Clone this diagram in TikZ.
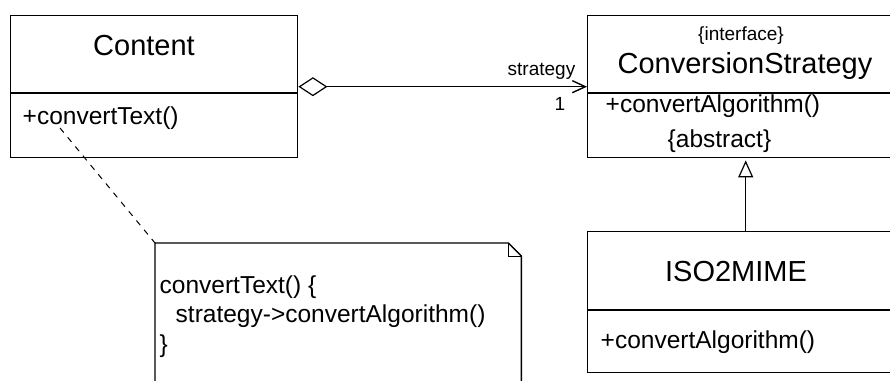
\documentclass[tikz,border=0pt]{standalone}
\usepackage{fontspec}
\setmainfont{Liberation Sans}
\usetikzlibrary{arrows.meta}
\begin{document}
\begin{tikzpicture}[x=1pt,y=-1pt,
  line width=1.4pt,
  classbox/.style={draw, inner sep=0pt, anchor=north west},
  titlefont/.style={font=\fontsize{29}{34}\selectfont},
  opfont/.style={font=\fontsize{24.5}{29.5}\selectfont},
  smallfont/.style={font=\fontsize{19}{22}\selectfont},
  txt/.style={inner sep=0pt, anchor=base west},
  ctxt/.style={inner sep=0pt, anchor=base},
]
\useasboundingbox (0,0) rectangle (890,380);
\clip (0,0) rectangle (890,380);
\fill[white] (0,0) rectangle (890,380);

% class Content
\node[classbox, minimum width=287pt, minimum height=142pt] (content) at (10,15) {};
\draw (content.west |- 0,93) -- (content.east |- 0,93);
\node[ctxt, titlefont] (contentname) at (144,55) {Content};
\node[txt, opfont] (contentop) at (22,124) {+convertText()};

% interface ConversionStrategy
\node[classbox, minimum width=316pt, minimum height=142pt] (cs) at (587,15) {};
\draw (cs.west |- 0,93) -- (cs.east |- 0,93);
\node[ctxt, smallfont] (csstereo) at (741,40) {\{interface\}};
\node[ctxt, titlefont] (csname) at (745,73) {ConversionStrategy};
\node[txt, opfont] (csop) at (605,112) {+convertAlgorithm()};
\node[txt, opfont] (csabs) at (667,147) {\{abstract\}};

% class ISO2MIME
\node[classbox, minimum width=316pt, minimum height=141pt] (iso) at (587,231) {};
\draw (iso.west |- 0,310) -- (iso.east |- 0,310);
\node[ctxt, titlefont] (isoname) at (736,281) {ISO2MIME};
\node[txt, opfont] (isoop) at (600,348) {+convertAlgorithm()};

% aggregation Content -> ConversionStrategy
\draw[{Diamond[open,length=29pt,width=19pt,line width=1.2pt]}-{Straight Barb[length=13pt,width=12pt,line width=1.4pt]}]
  (content.east) -- (cs.west);
\node[txt, smallfont] (rolename) at (507,75) {strategy};
\node[ctxt, smallfont] (mult) at (560,110) {1};

% generalization ISO2MIME -> ConversionStrategy
\draw[-{Triangle[open,length=17pt,width=15pt,line width=1.2pt]}, shorten >=2pt]
  (iso.north) -- (cs.south);

% note attached to convertText()
\node[inner sep=0pt, minimum width=365pt, minimum height=160pt, anchor=north west] (note) at (155,243) {};
\draw (note.south west) -- (note.north west) -- ([xshift=-13pt]note.north east)
  -- ([yshift=-13pt]note.north east) -- (note.south east);
\draw[line width=1pt] ([xshift=-13pt]note.north east) -- ([xshift=-13pt,yshift=-13pt]note.north east)
  -- ([yshift=-13pt]note.north east);
\node[txt, opfont] (noteline1) at (159,293) {convertText() \{};
\node[txt, opfont] (noteline2) at (175,322) {strategy->convertAlgorithm()};
\node[txt, opfont] (noteline3) at (159,352) {\}};
\coordinate (anchorpt) at (60,128);
\draw[dash pattern=on 6pt off 6pt, line width=1pt] (anchorpt) -- (note.north west);
\end{tikzpicture}
\end{document}
